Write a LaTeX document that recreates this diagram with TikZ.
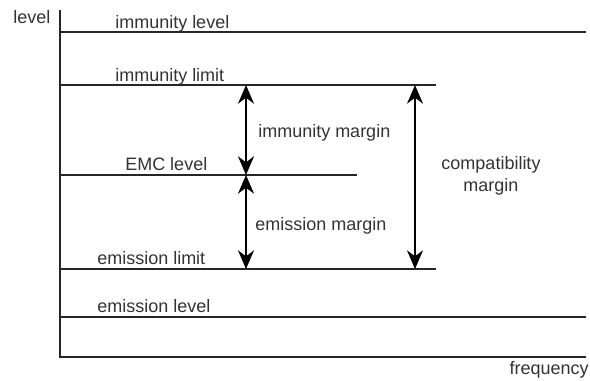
\documentclass[tikz,border=0pt]{standalone}
\usepackage{fontspec}
\setmainfont{Liberation Sans}
\usetikzlibrary{arrows.meta,positioning}

\begin{document}
\begin{tikzpicture}[x=0.75pt,y=-0.75pt,
    axisline/.style={line width=2.2pt, black!85},
    levelline/.style={line width=1.9pt, black!85},
    marginarrow/.style={{Stealth[length=14pt,width=12pt,inset=4.5pt]}-{Stealth[length=14pt,width=12pt,inset=4.5pt]},
                        line width=1.4pt},
    lbl/.style={font=\fontsize{13.5}{16}\selectfont, text=black!80, inner sep=0pt, anchor=base west}
  ]
    \useasboundingbox (0,0) rectangle (590,380);

    % axes
    \coordinate (origin) at (60,357);
    \coordinate (ytop) at (60,10);
    \coordinate (xend) at (586,357);
    \draw[axisline] (ytop) -- (origin) -- (xend);
    \node[lbl] (ylabel) at (13,23) {level};
    \node[lbl, anchor=base east] (xlabel) at (589,374) {frequency};

    % level lines
    \draw[levelline] (60,32) -- (586,32);
    \draw[levelline] (60,85) -- (436,85);
    \draw[levelline] (60,175) -- (357,175);
    \draw[levelline] (60,269) -- (436,269);
    \draw[levelline] (60,317) -- (586,317);

    \node[lbl] (immlevel) at (115,28) {immunity level};
    \node[lbl] (immlimit) at (115,81) {immunity limit};
    \node[lbl] (emclevel) at (125,170) {EMC level};
    \node[lbl] (emilimit) at (97,264) {emission limit};
    \node[lbl] (emilevel) at (97,312) {emission level};

    % margins
    \coordinate (imm top) at (246,85);
    \coordinate (emc mid) at (246,175);
    \coordinate (emi bot) at (246,269);
    \coordinate (comp top) at (415,85);
    \coordinate (comp bot) at (415,269);
    \draw[marginarrow] (imm top) -- (emc mid);
    \draw[marginarrow] (emc mid) -- (emi bot);
    \draw[marginarrow] (comp top) -- (comp bot);

    \node[lbl] (immmargin) at (258,137) {immunity margin};
    \node[lbl] (emimargin) at (255,230) {emission margin};
    \node[lbl, anchor=center, align=center] (compmargin) at (491,176) {compatibility\\margin};
\end{tikzpicture}
\end{document}
